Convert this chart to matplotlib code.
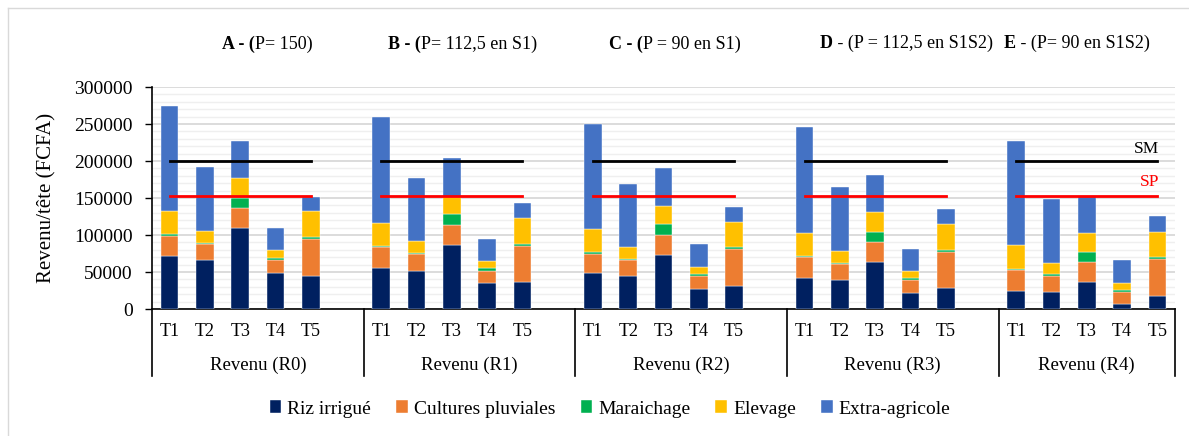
import matplotlib
matplotlib.use("Agg")
import matplotlib.pyplot as plt
from matplotlib.lines import Line2D
from matplotlib.font_manager import FontProperties
import matplotlib.transforms as mtransforms
import numpy as np

SERIF = ['Liberation Serif', 'DejaVu Serif']
plt.rcParams['font.family'] = SERIF

groups = ["Revenu (R0)", "Revenu (R1)", "Revenu (R2)", "Revenu (R3)", "Revenu (R4)"]
tiers = ["T1", "T2", "T3", "T4", "T5"]
titles_bold = ["A - (", "B - (", "C - (", "D", "E"]
titles_rest = ["P= 150)", "P= 112,5 en S1)", "P = 90 en S1)", " - (P = 112,5 en S1S2)", " - (P= 90 en S1S2)"]

riz = [[72000, 66000, 110000, 49000, 44000],
       [56000, 52000, 87000, 35000, 36500],
       [48000, 44000, 73000, 27500, 31500],
       [42500, 39000, 63500, 22000, 28000],
       [24500, 23000, 36000, 6300, 18000]]
cultures = [[27000, 22000, 27000, 17000, 50000],
            [27500, 22000, 27000, 17000, 49000],
            [27000, 22000, 27500, 16700, 49000],
            [27500, 22000, 27500, 17000, 49500],
            [28000, 22000, 27500, 16700, 49000]]
maraichage = [[2000, 1500, 13500, 3500, 3000],
              [2200, 1500, 14500, 3500, 2700],
              [1500, 1400, 14000, 3200, 2700],
              [1800, 1400, 13600, 3200, 2700],
              [1400, 1800, 14000, 3200, 2700]]
elevage = [[31000, 16000, 26000, 10000, 35000],
           [31000, 16000, 23000, 10000, 35000],
           [32000, 16000, 25000, 10000, 35000],
           [31000, 16000, 26000, 9500, 35000],
           [32000, 16000, 25000, 9500, 35000]]
extra = [[143000, 86000, 50000, 30000, 20000],
         [143000, 86000, 53000, 29000, 20000],
         [142000, 86000, 50500, 30000, 20000],
         [142500, 86000, 50500, 30000, 20000],
         [141500, 86000, 50500, 30000, 21000]]

sm_values = [200000, 200000, 200000, 200000, 200000]
sp_values = [153000, 153000, 153000, 153000, 153000]

series_names = ["Riz irrigué", "Cultures pluviales", "Maraichage", "Elevage", "Extra-agricole"]
series_data = [riz, cultures, maraichage, elevage, extra]
colors = ["#002060", "#ED7D31", "#00B050", "#FFC000", "#4472C4"]

W, H = 1189, 436
fig = plt.figure(figsize=(W / 100, H / 100), dpi=100)
ax = fig.add_axes([152 / W, (H - 309) / H, 1023 / W, 222 / H])

slot = 6
xpos = np.array([[g * slot + i for i in range(5)] for g in range(5)])

bottoms = np.zeros((5, 5))
for name, data, col in zip(series_names, series_data, colors):
    d = np.array(data, dtype=float)
    ax.bar(xpos.ravel(), d.ravel(), bottom=bottoms.ravel(), width=0.5,
           color=col, label=name, edgecolor='#ffffff', linewidth=0.3, zorder=3)
    bottoms += d

for g in range(5):
    ax.plot([xpos[g, 0], xpos[g, -1]], [sm_values[g]] * 2, color='black', lw=2.0, zorder=4)
    ax.plot([xpos[g, 0], xpos[g, -1]], [sp_values[g]] * 2, color='#FF0000', lw=2.0, zorder=4)

ax.text(xpos[-1, -1] + 0.05, sm_values[-1] + 16000, "SM", ha='right', va='center',
        fontsize=12.5, color='black', family=SERIF)
ax.text(xpos[-1, -1] + 0.05, sp_values[-1] + 18000, "SP", ha='right', va='center',
        fontsize=12.5, color='#FF0000', family=SERIF)

ax.set_xlim(-0.5, 28.5)
ax.set_ylim(0, 300000)
ax.set_yticks(np.arange(0, 300001, 50000))
ax.set_yticklabels([str(v) for v in range(0, 300001, 50000)], fontsize=14, family=SERIF)
ax.set_yticks(np.arange(0, 300001, 10000), minor=True)
ax.tick_params(axis='y', which='major', length=5, width=1, pad=9, direction='out')
ax.tick_params(axis='y', which='minor', length=0)
ax.grid(axis='y', which='major', color='#d9d9d9', lw=1.3, zorder=0)
ax.grid(axis='y', which='minor', color='#efefef', lw=1.0, zorder=0)
ax.set_axisbelow(True)

ax.set_xticks(xpos.ravel())
ax.set_xticklabels(tiers * 5, fontsize=13, family=SERIF)
ax.tick_params(axis='x', length=0, pad=10)

for s in ['top', 'right']:
    ax.spines[s].set_visible(False)
ax.spines['left'].set_color('black')
ax.spines['left'].set_linewidth(1.2)
ax.spines['bottom'].set_color('black')
ax.spines['bottom'].set_linewidth(1.2)

ax.set_ylabel("Revenu/tête (FCFA)", fontsize=15, family=SERIF)
ax.yaxis.set_label_coords(-0.093, 0.5)

trans = mtransforms.blended_transform_factory(ax.transData, ax.transAxes)
bounds = [-0.5, 5.5, 11.5, 17.5, 23.5, 28.5]
for b in bounds:
    ax.add_line(Line2D([b, b], [0, -0.302], transform=trans, color='black', lw=1.2, clip_on=False))
for g in range(5):
    cx = (bounds[g] + bounds[g + 1]) / 2
    ax.text(cx, -0.253, groups[g], transform=trans, ha='center', va='center',
            fontsize=13.5, family=SERIF)

# titles (bold prefix + regular remainder)
title_starts = [222, 388, 609, 820, 1004]
for g in range(5):
    t1 = fig.text(title_starts[g] / W, (H - 44) / H, titles_bold[g], fontsize=13,
                  fontweight='bold', ha='left', va='center', family=SERIF)
    ax.annotate(titles_rest[g], xy=(1, 0), xycoords=t1, ha='left', va='bottom',
                fontsize=13, family=SERIF, annotation_clip=False)

leg_font = FontProperties(family=SERIF, size=14)
fig.legend(loc='center', bbox_to_anchor=(610 / W, (H - 409) / H), ncol=5,
           frameon=False, prop=leg_font, handlelength=0.6, handleheight=0.6,
           handletextpad=0.3, columnspacing=1.3, borderaxespad=0)

# chart-area border (left and top edges visible in the crop)
fig.add_artist(Line2D([8 / W, 8 / W], [0, (H - 8) / H], transform=fig.transFigure,
                      color='#d9d9d9', lw=1.0))
fig.add_artist(Line2D([8 / W, 1], [(H - 8) / H, (H - 8) / H], transform=fig.transFigure,
                      color='#d9d9d9', lw=1.0))

fig.savefig("out.png", dpi=100)
